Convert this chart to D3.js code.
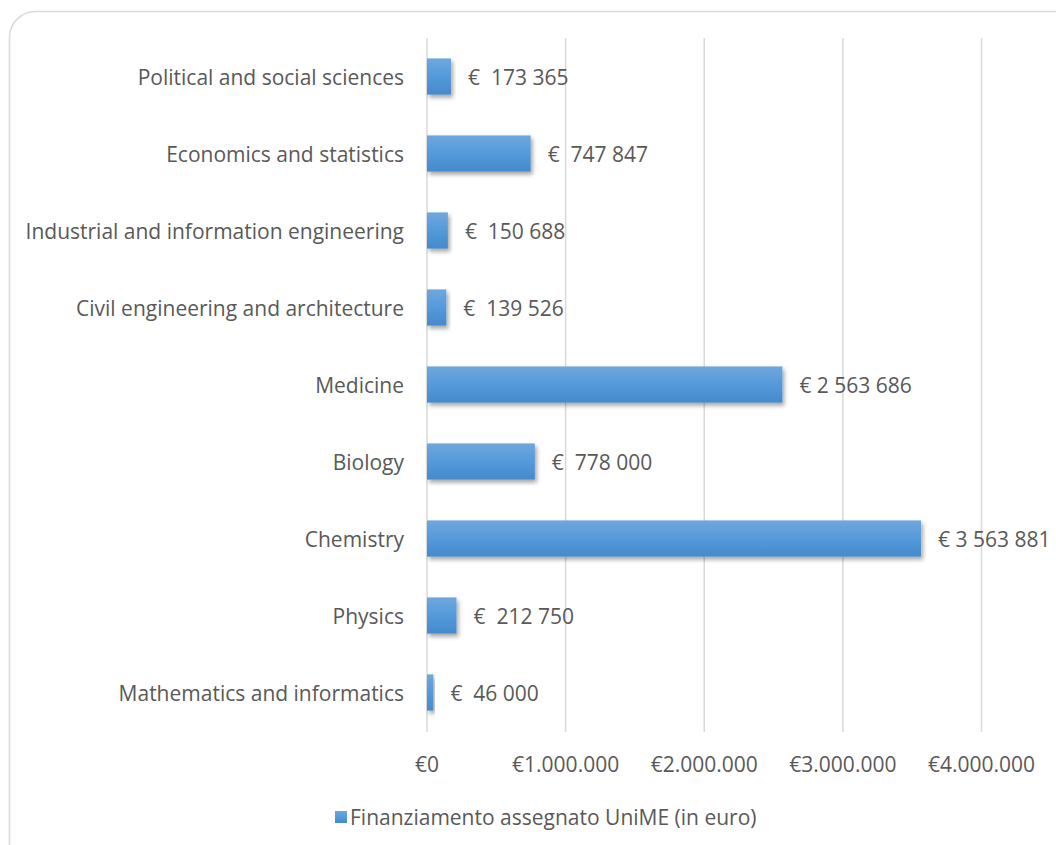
<!DOCTYPE html>
<html>
<head>
<meta charset="utf-8">
<script src="https://cdn.jsdelivr.net/npm/d3@7"></script>
<style>
  body { margin: 0; background: #fff; }
  text { font-family: "Open Sans", sans-serif; fill: #595959; }
</style>
</head>
<body>
<svg id="chart"></svg>
<script>
// categories, top to bottom
const categories = [
  "Political and social sciences",
  "Economics and statistics",
  "Industrial and information engineering",
  "Civil engineering and architecture",
  "Medicine",
  "Biology",
  "Chemistry",
  "Physics",
  "Mathematics and informatics"
];
const values = [173365, 747847, 150688, 139526, 2563686, 778000, 3563881, 212750, 46000];
const valueLabels = ["€  173 365", "€  747 847", "€  150 688", "€  139 526", "€ 2 563 686",
  "€  778 000", "€ 3 563 881", "€  212 750", "€  46 000"];
const ticks = [0, 1000000, 2000000, 3000000, 4000000];
const tickLabels = ["€0", "€1.000.000", "€2.000.000", "€3.000.000", "€4.000.000"];
const legendLabel = "Finanziamento assegnato UniME (in euro)";

const width = 1056, height = 845;
const margin = {top: 38, left: 427};
const fontSize = "21px";

const svg = d3.select("#chart").attr("width", width).attr("height", height);

// frame
svg.append("rect")
  .attr("x", 9.5).attr("y", 11.5)
  .attr("width", 1080).attr("height", 880)
  .attr("rx", 26).attr("ry", 26)
  .attr("fill", "#fff").attr("stroke", "#d9d9d9").attr("stroke-width", 1.5);

const defs = svg.append("defs");
const grad = defs.append("linearGradient").attr("id", "barGrad")
  .attr("x1", 0).attr("y1", 0).attr("x2", 0).attr("y2", 1);
grad.append("stop").attr("offset", "0%").attr("stop-color", "#6fa7dd");
grad.append("stop").attr("offset", "50%").attr("stop-color", "#549ada");
grad.append("stop").attr("offset", "100%").attr("stop-color", "#4689cc");
const shadow = defs.append("filter").attr("id", "shadow")
  .attr("x", "-10%").attr("y", "-30%").attr("width", "130%").attr("height", "180%");
shadow.append("feDropShadow").attr("dx", 2).attr("dy", 3).attr("stdDeviation", 2)
  .attr("flood-color", "#000").attr("flood-opacity", 0.35);

const x = d3.scaleLinear().domain([0, 4000000]).range([0, 554.5]);
const y = d3.scaleBand().domain(categories).range([0, 693]).paddingInner(0.53).paddingOuter(0.265);

const g = svg.append("g").attr("transform", `translate(${margin.left},${margin.top})`);

// gridlines
g.append("g").selectAll("line")
  .data(ticks)
  .join("line")
  .attr("x1", d => x(d)).attr("x2", d => x(d))
  .attr("y1", 0).attr("y2", 694)
  .attr("stroke", "#d9d9d9").attr("stroke-width", 1.5);

// x tick labels
g.append("g").selectAll("text")
  .data(ticks)
  .join("text")
  .attr("x", d => x(d)).attr("y", 727)
  .attr("dy", "0.35em")
  .attr("text-anchor", "middle")
  .attr("font-size", fontSize)
  .text((d, i) => tickLabels[i]);

// category labels
g.append("g").selectAll("text")
  .data(categories)
  .join("text")
  .attr("x", -23).attr("y", d => y(d) + y.bandwidth() / 2 + 1)
  .attr("dy", "0.35em")
  .attr("text-anchor", "end")
  .attr("font-size", fontSize)
  .text(d => d);

// bars
g.append("g").selectAll("rect")
  .data(values)
  .join("rect")
  .attr("x", 0)
  .attr("y", (d, i) => y(categories[i]))
  .attr("width", d => x(d))
  .attr("height", y.bandwidth())
  .attr("fill", "url(#barGrad)")
  .attr("filter", "url(#shadow)");

// value labels
g.append("g").selectAll("text")
  .data(values)
  .join("text")
  .attr("x", d => x(d) + 17)
  .attr("y", (d, i) => y(categories[i]) + y.bandwidth() / 2 + 1)
  .attr("dy", "0.35em")
  .attr("font-size", fontSize)
  .style("white-space", "pre")
  .text((d, i) => valueLabels[i]);

// legend
const legend = svg.append("g").attr("transform", "translate(335,817)");
legend.append("rect").attr("x", 0).attr("y", -6).attr("width", 12).attr("height", 12)
  .attr("fill", "url(#barGrad)");
legend.append("text").attr("x", 15).attr("y", 1).attr("dy", "0.35em")
  .attr("font-size", fontSize)
  .text(legendLabel);
</script>
</body>
</html>
